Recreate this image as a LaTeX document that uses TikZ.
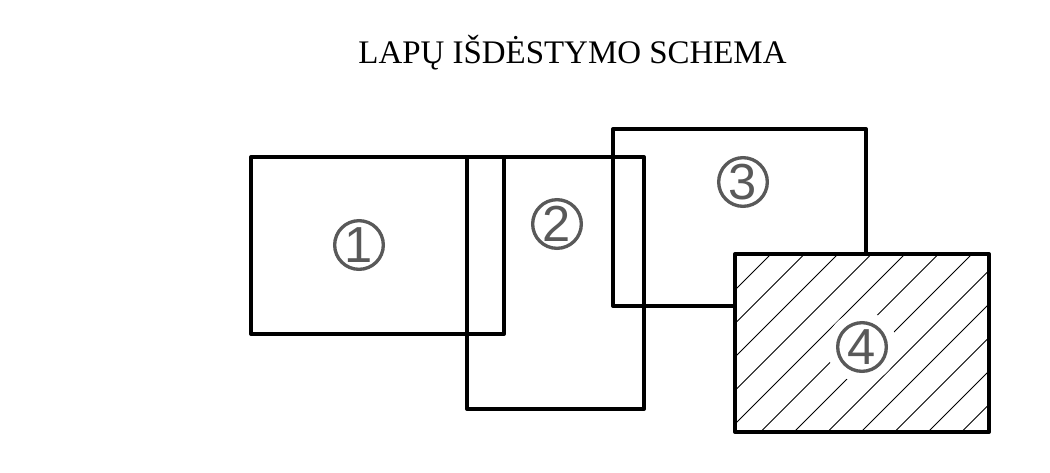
\documentclass[tikz,border=0pt]{standalone}
\usepackage{fontspec}
\setmainfont{Liberation Serif}
\newfontfamily\numfont{Liberation Sans}
\usepackage{xcolor}
\definecolor{numgray}{HTML}{595959}
\definecolor{sheetline}{HTML}{000000}
\tikzset{
  sheet/.style={draw=sheetline,line width=3pt,line join=round},
  sheetnum/.style={circle,draw=numgray,line width=2.5pt,minimum size=36.5pt,
    inner sep=0pt,text=numgray,font=\numfont\fontsize{38}{38}\selectfont},
  hatchline/.style={draw=sheetline,line width=0.75pt}
}
\begin{document}
\begin{tikzpicture}[x=0.75pt,y=-0.75pt]
  \useasboundingbox (0,0) rectangle (1050,472);
  % title
  \node[anchor=base,font=\fontsize{24.7}{28}\selectfont] (title) at (572.5,63)
    {LAPŲ IŠDĖSTYMO SCHEMA};
  % sheets 1-3
  \draw[sheet] (251,157) rectangle (504,334);
  \draw[sheet] (467,157) rectangle (644,409);
  \draw[sheet] (613,129) rectangle (866,306);
  % sheet 4, hatched
  \fill[white] (735,254) rectangle (989,432);
  \begin{scope}
    \clip (735,254) rectangle (989,432);
    \foreach \i in {-1,...,12}{
      \pgfmathsetmacro\c{1025+33.5*\i}
      \draw[hatchline] ({\c-440},440) -- ({\c-240},240);
    }
  \end{scope}
  \fill[white] (862,347) circle[radius=26.5pt];
  \draw[sheet] (735,254) rectangle (989,432);
  % numbers
  \node[sheetnum] (num1) at (359,245) {1};
  \node[sheetnum] (num2) at (557,224) {2};
  \node[sheetnum] (num3) at (743,182) {3};
  \node[sheetnum] (num4) at (862,347) {4};
\end{tikzpicture}
\end{document}
